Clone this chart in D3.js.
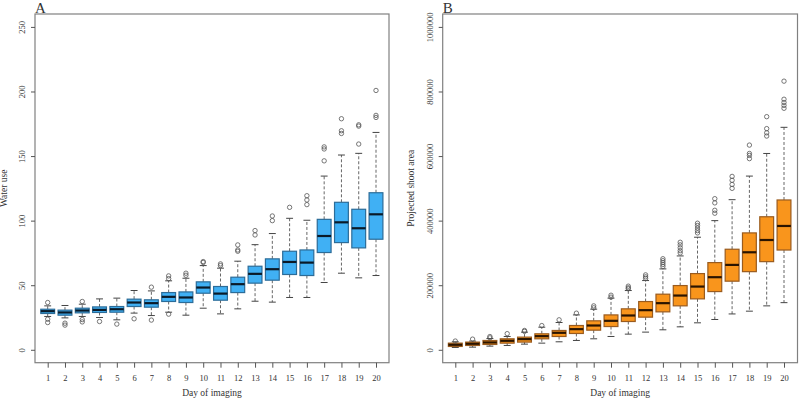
<!DOCTYPE html>
<html>
<head>
<meta charset="utf-8">
<script src="https://cdn.jsdelivr.net/npm/d3@7/dist/d3.min.js"></script>
<style>
  html, body { margin: 0; padding: 0; background: #fff; }
  svg { display: block; }
  text { font-family: "Liberation Serif", "DejaVu Serif", serif; fill: #333; }
</style>
</head>
<body>
<svg id="chart" width="800" height="400"></svg>
<script>
// ---------- DATA ----------
const days = [1,2,3,4,5,6,7,8,9,10,11,12,13,14,15,16,17,18,19,20];

// Panel A: Water use
const waterLower  = [25.8,24.7,25.8,25.0,23.2,28.4,26.5,29.1,26.8,32.2,27.8,31.7,37.6,36.9,40.5,40.5,52.1,59.3,55.7,57.5];
const waterQ1     = [28.1,26.8,28.6,28.9,29.1,33.5,33.0,37.4,36.6,43.8,38.4,44.3,51.6,53.9,58.3,57.5,75.3,83.0,78.9,85.6];
const waterMedian = [29.9,28.9,30.4,30.9,31.4,36.6,36.1,41.0,40.5,48.2,43.5,50.8,58.8,62.4,68.0,67.5,88.1,98.7,94.1,104.9];
const waterQ3     = [31.4,30.7,32.2,33.2,33.5,39.2,38.7,44.3,44.8,52.6,49.0,56.2,64.7,70.4,76.3,77.3,101.0,114.2,108.8,121.6];
const waterUpper  = [34.0,34.3,35.3,39.4,40.0,45.9,45.6,53.4,55.4,65.2,63.2,68.6,81.4,90.0,101.8,100.3,134.5,150.8,152.1,168.3];
const waterOutliers = [
  [36.6,23.7,21.1],[20.6,19.1],[37.4,23.4,21.6],[21.9],[19.9],[24.0],[48.5,23.0],
  [57.2,55.1,27.6],[59.3,57.7],[68.3,67.6],[66.5,65.2],[81.2,77.3,76.3],[92.3,88.9],
  [103.6,100.0],[110.3],[119.3,116.0,112.4],[157.1,155.5,146.3],[178.9,169.6,167.5],
  [174.2,173.2,159.3],[200.8,181.5,179.9]
];
const waterTicks = [0,50,100,150,200,250];

// Panel B: Projected shoot area
const areaLower  = [7200,8200,11300,13400,17500,20600,24700,28900,34000,41200,48500,54700,61900,71100,83500,93800,111000,119600,136000,146000];
const areaQ1     = [10300,13400,16500,20600,23800,34000,41200,50500,60800,72000,87600,101100,117500,136100,157700,180300,212500,242000,273000,309000];
const areaMedian = [15500,18600,22700,27800,33000,42200,52600,63900,75200,89700,106200,122700,144400,168000,195800,224800,262900,302000,340000,383500];
const areaQ3     = [20600,23800,28800,34000,39200,49500,59800,75200,89700,108000,126800,149400,172200,198900,236000,270000,311400,362000,412000,464000];
const areaUpper  = [24700,27000,35000,41200,54600,70000,84500,108000,125800,160000,183500,214400,250500,290700,348600,400000,464900,538000,608000,689000];
const areaOutliers = [
  [27000],[33000],[41000,37000],[50000],[59800,57000],[75000],[92800],[113400],
  [136000,130000],[169000,163000],[197000,192000,189000],[232000,226000,221000],
  [282000,276000,270000,264000,258000],[333000,325000,316000,307000,300000],
  [392000,385000,377000,369000,362000],[468000,455000,432000,423000],
  [537000,525000,512000,500000],[634000,608000,602000,592000],
  [722000,685000,672000,662000],[832000,776000,766000,757000,748000]
];
const areaTicks = [0,200000,400000,600000,800000,1000000];

// ---------- DRAW ----------
const svg = d3.select("#chart");

function panel(opts) {
  const g = svg.append("g");
  const { x0, x1, y0, y1, xFirst, xLast, yDomain } = opts;
  const x = d3.scaleLinear().domain([1, 20]).range([xFirst, xLast]);
  const y = d3.scaleLinear().domain(yDomain).range([y1, y0]);
  const step = x(2) - x(1);
  const bw = step * 0.8;
  const cap = bw / 2;

  const data = days.map((d, i) => ({
    day: d, lo: opts.lower[i], q1: opts.q1[i], med: opts.median[i],
    q3: opts.q3[i], hi: opts.upper[i], out: opts.outliers[i]
  }));

  const b = g.selectAll("g.box").data(data).enter().append("g").attr("class", "box");
  // whiskers (dashed)
  b.append("line").attr("x1", d => x(d.day)).attr("x2", d => x(d.day))
    .attr("y1", d => y(d.q3)).attr("y2", d => y(d.hi))
    .attr("stroke", "#555").attr("stroke-width", 0.9).attr("stroke-dasharray", "3,2");
  b.append("line").attr("x1", d => x(d.day)).attr("x2", d => x(d.day))
    .attr("y1", d => y(d.q1)).attr("y2", d => y(d.lo))
    .attr("stroke", "#555").attr("stroke-width", 0.9).attr("stroke-dasharray", "3,2");
  // caps
  b.append("line").attr("x1", d => x(d.day) - cap / 2).attr("x2", d => x(d.day) + cap / 2)
    .attr("y1", d => y(d.hi)).attr("y2", d => y(d.hi))
    .attr("stroke", "#444").attr("stroke-width", 1);
  b.append("line").attr("x1", d => x(d.day) - cap / 2).attr("x2", d => x(d.day) + cap / 2)
    .attr("y1", d => y(d.lo)).attr("y2", d => y(d.lo))
    .attr("stroke", "#444").attr("stroke-width", 1);
  // box
  b.append("rect").attr("x", d => x(d.day) - bw / 2).attr("width", bw)
    .attr("y", d => y(d.q3)).attr("height", d => y(d.q1) - y(d.q3))
    .attr("fill", opts.fill).attr("stroke", opts.stroke).attr("stroke-width", 1.2);
  // median
  b.append("line").attr("x1", d => x(d.day) - bw / 2).attr("x2", d => x(d.day) + bw / 2)
    .attr("y1", d => y(d.med)).attr("y2", d => y(d.med))
    .attr("stroke", opts.medColor).attr("stroke-width", 2.2);
  // outliers
  b.selectAll("circle").data(d => d.out.map(v => ({ day: d.day, v }))).enter()
    .append("circle").attr("cx", d => x(d.day)).attr("cy", d => y(d.v)).attr("r", 2.2)
    .attr("fill", "none").attr("stroke", "#555").attr("stroke-width", 0.8);

  // frame
  g.append("rect").attr("x", x0).attr("y", y0).attr("width", x1 - x0).attr("height", y1 - y0)
    .attr("fill", "none").attr("stroke", "#808080").attr("stroke-width", 1.2);

  // x axis
  const xa = g.append("g").attr("transform", `translate(0,${y1})`)
    .call(d3.axisBottom(x).tickValues(days).tickSize(5).tickPadding(7).tickFormat(d3.format("d")));
  xa.select(".domain").remove();
  xa.selectAll("line").attr("stroke", "#555");
  xa.selectAll("text").attr("font-size", 8.5).attr("fill", "#333")
    .style("font-family", "Liberation Serif, serif");

  // y axis
  const ya = g.append("g").attr("transform", `translate(${x0},0)`)
    .call(d3.axisLeft(y).tickValues(opts.ticks).tickSize(4).tickFormat(d3.format("d")));
  ya.select(".domain").remove();
  ya.selectAll("line").attr("stroke", "#555");
  ya.selectAll("text").attr("font-size", 8.5).attr("fill", "#333")
    .style("font-family", "Liberation Serif, serif")
    .attr("x", null).attr("dy", null)
    .attr("text-anchor", "middle")
    .attr("transform", `translate(${opts.tickLabelX - x0},0) rotate(-90)`)
    .attr("y", 0).attr("dy", "0.35em");

  // labels
  g.append("text").attr("x", (x0 + x1) / 2).attr("y", 396).attr("text-anchor", "middle")
    .attr("font-size", 9.5).text("Day of imaging");
  g.append("text").attr("transform", `translate(${opts.yLabelX},${(y0 + y1) / 2}) rotate(-90)`)
    .attr("text-anchor", "middle").attr("font-size", 9.5).text(opts.yLabel);
  g.append("text").attr("x", x0).attr("y", 12.5).attr("font-size", 15).attr("fill", "#111")
    .text(opts.letter);
}

panel({
  x0: 35, x1: 389, y0: 14, y1: 362.7, xFirst: 47.7, xLast: 376, yDomain: [-10, 260],
  lower: waterLower, q1: waterQ1, median: waterMedian, q3: waterQ3, upper: waterUpper,
  outliers: waterOutliers, ticks: waterTicks,
  fill: "#40B0F4", stroke: "#2C6C98", medColor: "#0a1a28",
  tickLabelX: 22, yLabelX: 7, yLabel: "Water use", letter: "A"
});

panel({
  x0: 442.7, x1: 797.5, y0: 14, y1: 362.7, xFirst: 455.3, xLast: 784, yDomain: [-40000, 1040000],
  lower: areaLower, q1: areaQ1, median: areaMedian, q3: areaQ3, upper: areaUpper,
  outliers: areaOutliers, ticks: areaTicks,
  fill: "#F9951C", stroke: "#9A5B1E", medColor: "#2a1400",
  tickLabelX: 430, yLabelX: 414, yLabel: "Projected shoot area", letter: "B"
});
</script>
</body>
</html>
